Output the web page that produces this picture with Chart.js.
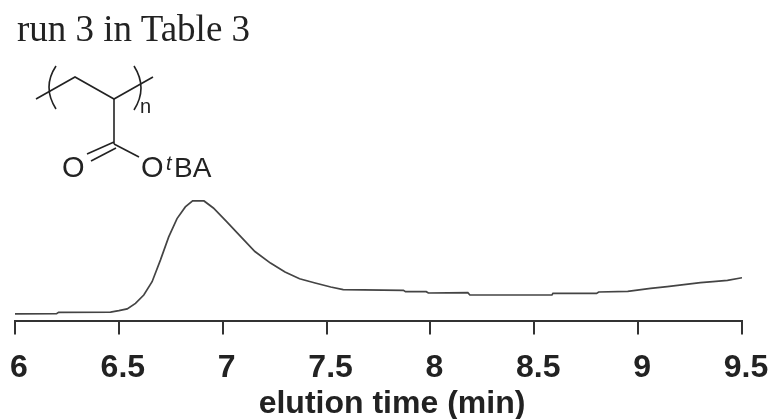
<!DOCTYPE html>
<html lang="en">
<head>
    <meta charset="UTF-8">
    <title>run 3 in Table 3</title>
    <script src="https://cdn.jsdelivr.net/npm/chart.js"></script>
    <style>
        html, body { margin: 0; padding: 0; background: #fff; overflow: hidden; }
        #wrap { position: relative; width: 772px; height: 419px; }
        #wrap canvas, #wrap svg { position: absolute; left: 0; top: 0; }
    </style>
</head>
<body>
    <div id="wrap">
        <canvas id="myChart" width="772" height="419"></canvas>
        <!-- title, monomer structure and axis title sit on top of the chart -->
        <svg width="772" height="419" viewBox="0 0 772 419">
            <text x="17" y="41" font-family="Liberation Serif" font-size="37" fill="#222">run 3 in Table 3</text>
            <g fill="none" stroke="#222" stroke-width="1.6">
                <polyline points="36,99 75,77 114,99 153,77"/>
                <line x1="114" y1="99" x2="114" y2="144"/>
                <line x1="114" y1="142" x2="87" y2="154"/>
                <line x1="116" y1="148" x2="91" y2="161"/>
                <line x1="114" y1="144" x2="139" y2="157"/>
                <path d="M56,66 Q42,87 56,109"/>
                <path d="M134,66 Q148,88 134,110"/>
            </g>
            <g font-family="Liberation Sans" fill="#222">
                <text x="140" y="113" font-size="20">n</text>
                <text x="62" y="177" font-size="29">O</text>
                <text x="141" y="177" font-size="29">O</text>
                <text x="166" y="170" font-size="20" font-style="italic">t</text>
                <text x="174" y="177" font-size="28">BA</text>
            </g>
            <text x="392" y="413" text-anchor="middle" font-family="Liberation Sans" font-size="32" font-weight="bold" fill="#222">elution time (min)</text>
        </svg>
    </div>
    <script>
        // signal is height above the axis
        const times = [6.00, 6.20, 6.21, 6.46, 6.50, 6.54, 6.58, 6.62, 6.66, 6.70, 6.74, 6.78, 6.82, 6.855, 6.91, 6.955, 7.02, 7.08, 7.155, 7.23, 7.30, 7.37, 7.445, 7.52, 7.58, 7.87, 7.88, 7.98, 7.99, 8.18, 8.19, 8.585, 8.59, 8.80, 8.81, 8.95, 9.06, 9.14, 9.22, 9.30, 9.36, 9.43, 9.50];
        const signal = [6.7, 6.9, 8.3, 8.5, 10, 11.7, 17.3, 25.7, 39, 60.7, 84, 102.3, 114, 120, 120, 113, 99, 85.7, 69.3, 57.7, 48.7, 42, 37.7, 33.7, 31, 30.3, 29, 29, 27.7, 28, 25.7, 25.7, 27.3, 27.3, 28.7, 29.3, 32.3, 34, 36, 38, 39, 40.3, 43];
        const tickStep = 0.5;

        const ctx = document.getElementById('myChart').getContext('2d');
        const myChart = new Chart(ctx, {
            type: 'line',
            data: {
                datasets: [{
                    data: times.map((t, i) => ({ x: t, y: signal[i] })),
                    borderColor: '#444',
                    borderWidth: 1.7,
                    pointRadius: 0,
                    tension: 0,
                    fill: false
                }]
            },
            options: {
                responsive: false,
                animation: false,
                layout: { padding: { left: 0, right: 0, top: 190, bottom: 18 } },
                plugins: { legend: { display: false }, tooltip: { enabled: false } },
                scales: {
                    x: {
                        type: 'linear',
                        min: 6,
                        max: 9.5,
                        // chart.js reserves room for the end labels, pin the axis ends instead
                        afterFit: function (scale) {
                            scale.paddingLeft = 15;
                            scale.paddingRight = 30;
                        },
                        ticks: {
                            stepSize: tickStep,
                            maxRotation: 0,
                            autoSkip: false,
                            labelOffset: 4,
                            padding: 14,
                            color: '#222',
                            font: { family: 'Liberation Sans', size: 32, weight: 'bold' },
                            callback: v => String(v)
                        },
                        grid: { drawOnChartArea: false, drawTicks: true, tickLength: 14, color: '#333', lineWidth: 2 },
                        border: { color: '#333', width: 2 }
                    },
                    y: { display: false, min: 0, max: 131 }
                }
            }
        });
    </script>
</body>
</html>
